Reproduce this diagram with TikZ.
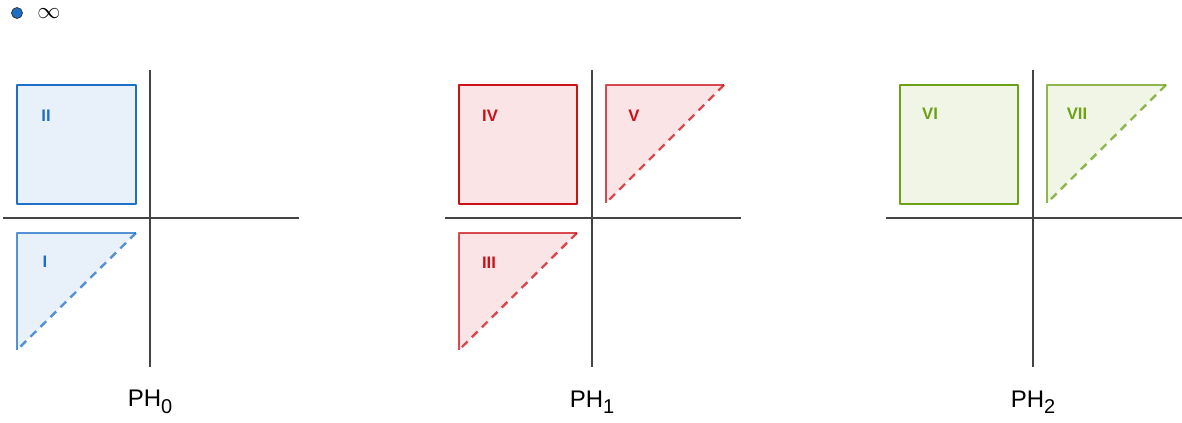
\documentclass[tikz,border=0pt]{standalone}
\usepackage{fontspec}
\setmainfont{Liberation Sans}
\usepackage{xcolor}
\usepackage{tikz}
\usetikzlibrary{positioning}

\definecolor{phBlue}{RGB}{31,111,201}
\definecolor{phBlueFill}{RGB}{232,240,249}
\definecolor{phRed}{RGB}{204,18,24}
\definecolor{phRedFill}{RGB}{250,228,229}
\definecolor{phGreen}{RGB}{108,160,22}
\definecolor{phGreenFill}{RGB}{240,245,230}
\definecolor{axisGray}{RGB}{68,68,68}

\begin{document}
\begin{tikzpicture}[
  x=0.75pt, y=-0.75pt,
  paxis/.style={draw=axisGray, line width=1.6pt},
  psquare/.style={line width=2pt, line join=round},
  ptri/.style={line width=1.8pt, draw opacity=0.75, line join=round},
  pdash/.style={line width=1.8pt, draw opacity=0.75, dash pattern=on 6pt off 4.5pt},
  plabel/.style={font=\fontsize{12.5}{13}\selectfont\bfseries, inner sep=0pt},
  pname/.style={font=\fontsize{18}{20}\selectfont, inner sep=0pt},
]
  \useasboundingbox (0,0) rectangle (1182,423);

  %% ── Legend ──────────────────────────────────────────────────
  \node[circle, fill=phBlue, draw=axisGray!80!black, line width=0.6pt,
    minimum size=8.2pt, inner sep=0pt] (dot) at (17,13) {};
  \node[inner sep=0pt, font=\fontsize{18}{18}\selectfont] (inf) at (49,14) {$\infty$};

  %% ── Axes ────────────────────────────────────────────────────
  \foreach \i/\cx in {0/150, 1/592, 2/1033} {
    \coordinate (top\i) at (\cx,70);
    \coordinate (bot\i) at (\cx,367);
    \coordinate (lft\i) at (\cx-147,218);
    \coordinate (rgt\i) at (\cx+149,218);
    \draw[paxis] (top\i) -- (bot\i);
    \draw[paxis] (lft\i) -- (rgt\i);
    \node[pname] (ph\i) at (\cx,402) {PH\raisebox{-0.5ex}{\fontsize{15}{15}\selectfont\i}};
  }

  %% ── PH0 ─────────────────────────────────────────────────────
  \draw[psquare, draw=phBlue, fill=phBlueFill] (17,85) rectangle (136,204);
  \fill[phBlueFill] (17,233) -- (136,233) -- (17,350) -- cycle;
  \draw[ptri, draw=phBlue] (17,350) -- (17,233) -- (136,233);
  \draw[pdash, draw=phBlue] (136,233) -- (17,350);
  \node[plabel, text=phBlue] (lII) at (46,116) {II};
  \node[plabel, text=phBlue] (lI) at (45,262) {I};

  %% ── PH1 ─────────────────────────────────────────────────────
  \draw[psquare, draw=phRed, fill=phRedFill] (459,85) rectangle (577,204);
  \fill[phRedFill] (606,85) -- (724,85) -- (606,203) -- cycle;
  \draw[ptri, draw=phRed] (606,203) -- (606,85) -- (724,85);
  \draw[pdash, draw=phRed] (724,85) -- (606,203);
  \fill[phRedFill] (459,233) -- (577,233) -- (459,350) -- cycle;
  \draw[ptri, draw=phRed] (459,350) -- (459,233) -- (577,233);
  \draw[pdash, draw=phRed] (577,233) -- (459,350);
  \node[plabel, text=phRed] (lIV) at (490,116) {IV};
  \node[plabel, text=phRed] (lV) at (634,116) {V};
  \node[plabel, text=phRed] (lIII) at (489,263) {III};

  %% ── PH2 ─────────────────────────────────────────────────────
  \draw[psquare, draw=phGreen, fill=phGreenFill] (900,85) rectangle (1018,204);
  \fill[phGreenFill] (1047,85) -- (1166,85) -- (1047,203) -- cycle;
  \draw[ptri, draw=phGreen] (1047,203) -- (1047,85) -- (1166,85);
  \draw[pdash, draw=phGreen] (1166,85) -- (1047,203);
  \node[plabel, text=phGreen] (lVI) at (930,114) {VI};
  \node[plabel, text=phGreen] (lVII) at (1077,114) {VII};

\end{tikzpicture}
\end{document}
